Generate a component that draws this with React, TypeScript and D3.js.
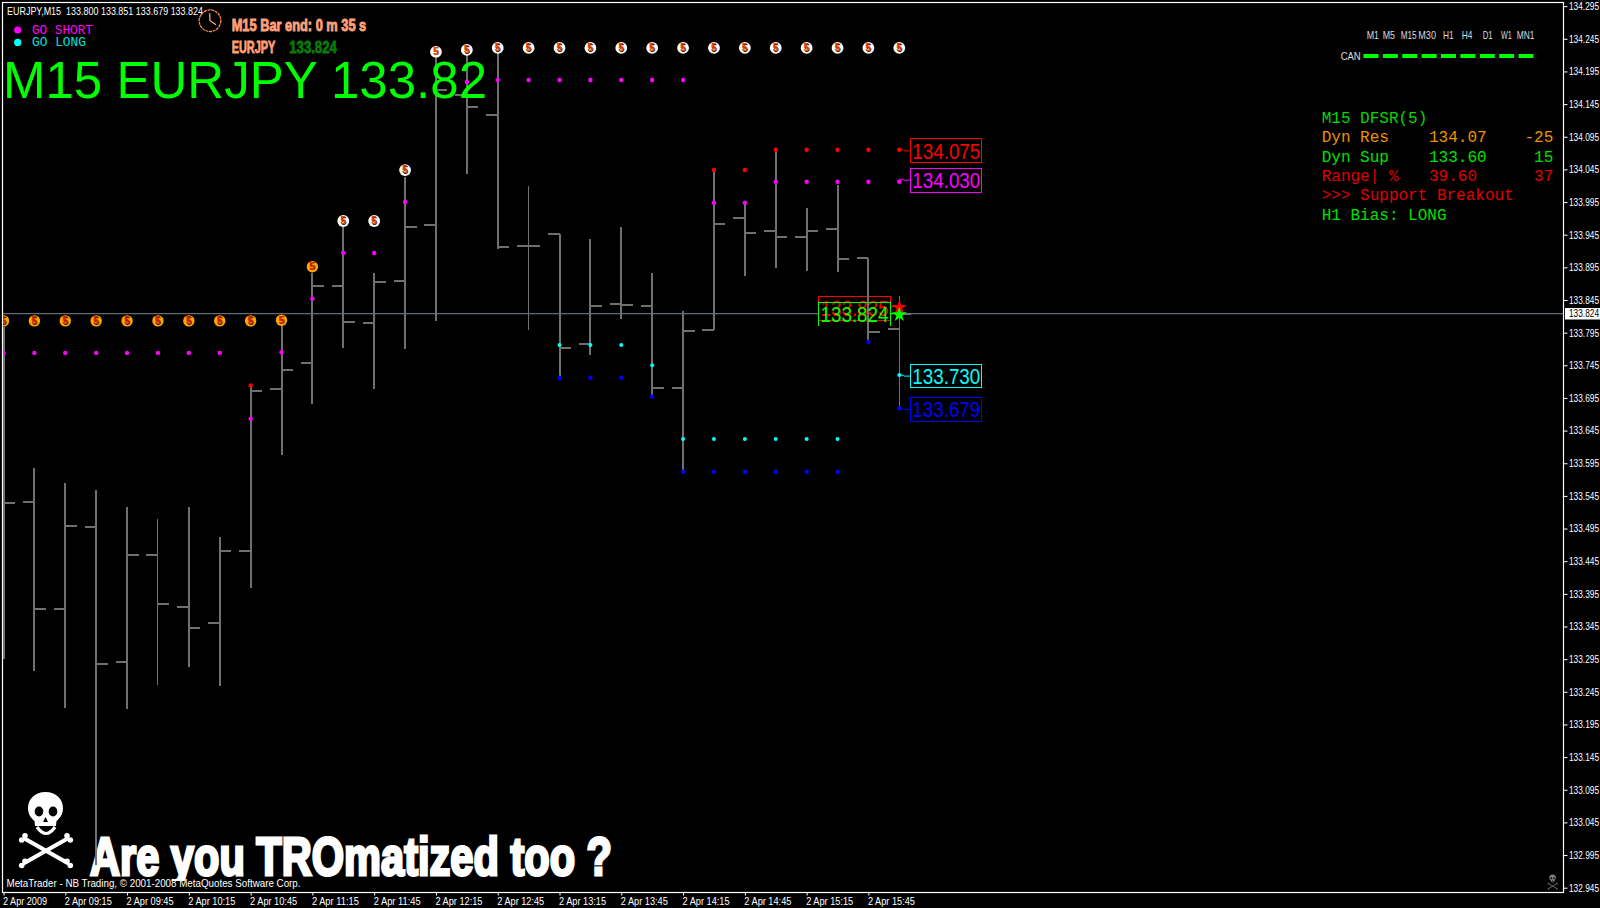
import React, { useEffect, useRef } from 'react';
import * as d3 from 'd3';

// bars, left to right
const opens = [133.540, 133.536, 133.372, 133.498, 133.291, 133.455, 133.375, 133.351, 133.460, 133.708, 133.749, 133.867, 133.810, 133.874, 133.960, 134.159, 134.128, 133.928, 133.946, 133.778, 133.839, 133.836, 133.711, 133.799, 133.970, 133.950, 133.942, 133.954, 133.910, 133.800];
const highs = [133.804, 133.588, 133.565, 133.554, 133.528, 133.510, 133.528, 133.482, 133.712, 133.807, 133.886, 133.957, 133.886, 134.034, 134.216, 134.220, 134.223, 134.020, 133.946, 133.938, 133.957, 133.886, 133.828, 134.044, 133.994, 134.075, 133.986, 134.021, 133.910, 133.851];
const lows = [133.295, 133.277, 133.220, 132.980, 133.219, 133.256, 133.283, 133.254, 133.404, 133.608, 133.685, 133.772, 133.709, 133.770, 133.813, 134.038, 133.923, 133.799, 133.726, 133.761, 133.816, 133.697, 133.582, 133.799, 133.882, 133.894, 133.890, 133.888, 133.781, 133.679];
const closes = [133.534, 133.372, 133.499, 133.288, 133.455, 133.380, 133.342, 133.460, 133.706, 133.738, 133.867, 133.811, 133.873, 133.957, 134.167, 134.140, 133.926, 133.928, 133.772, 133.836, 133.838, 133.711, 133.798, 133.961, 133.947, 133.942, 133.951, 133.908, 133.796, 133.824];
const thinBars = [5, 17, 29];

// "5" balloons above the bars
const balloonLevels = [133.813, 133.813, 133.813, 133.813, 133.813, 133.813, 133.813, 133.813, 133.813, 133.814, 133.896, 133.966, 133.966, 134.044, 134.225, 134.228, 134.231, 134.231, 134.231, 134.231, 134.231, 134.231, 134.231, 134.231, 134.231, 134.231, 134.231, 134.231, 134.231, 134.231];
const orangeBalloons = 11;

type Dot = [number, number];
const magentaDots: Dot[] = [[0, 133.764], [1, 133.764], [2, 133.764], [3, 133.764], [4, 133.764], [5, 133.764], [6, 133.764], [7, 133.764], [8, 133.663], [9, 133.765], [10, 133.847], [11, 133.917], [12, 133.917], [13, 133.995], [15, 134.179], [16, 134.182], [17, 134.182], [18, 134.182], [19, 134.182], [20, 134.182], [21, 134.182], [22, 134.182], [23, 133.994], [24, 133.994], [25, 134.026], [26, 134.026], [27, 134.026], [28, 134.026], [29, 134.026]];
const redDots: Dot[] = [[8, 133.714], [23, 134.044], [24, 134.044], [25, 134.075], [26, 134.075], [27, 134.075], [28, 134.075], [29, 134.075]];
const cyanDots: Dot[] = [[18, 133.776], [19, 133.776], [20, 133.776], [21, 133.745], [22, 133.632], [23, 133.632], [24, 133.632], [25, 133.632], [26, 133.632], [27, 133.632], [28, 133.833], [29, 133.730]];
const blueDots: Dot[] = [[18, 133.726], [19, 133.726], [20, 133.726], [21, 133.697], [22, 133.582], [23, 133.582], [24, 133.582], [25, 133.582], [26, 133.582], [27, 133.582], [28, 133.781], [29, 133.679]];

const levelValues = [134.075, 134.03, 133.73, 133.679];
const levelColors = ['#ff0000', '#ff00ff', '#00ffff', '#0000ff'];

const priceTicks = d3.range(28).map(i => 134.295 - i * 0.05);
const timeTickBars = [0, 2, 4, 6, 8, 10, 12, 14, 16, 18, 20, 22, 24, 26, 28];
const timeLabels = ['2 Apr 2009', '2 Apr 09:15', '2 Apr 09:45', '2 Apr 10:15', '2 Apr 10:45', '2 Apr 11:15', '2 Apr 11:45', '2 Apr 12:15', '2 Apr 12:45', '2 Apr 13:15', '2 Apr 13:45', '2 Apr 14:15', '2 Apr 14:45', '2 Apr 15:15', '2 Apr 15:45'];

const frameNames = ['M1', 'M5', 'M15', 'M30', 'H1', 'H4', 'D1', 'W1', 'MN1'];
const frameLabelX = [1366.7, 1382.7, 1400.7, 1418.3, 1443, 1461.7, 1482.7, 1501, 1516.7];
const frameLabelW = [12.3, 12.3, 16, 17.7, 10.7, 10.7, 10, 10.7, 17.7];

const dfsrRows = [
  { label: 'M15 DFSR(5)', value: '', pips: '', color: '#00d800' },
  { label: 'Dyn Res', value: '134.07', pips: '-25', color: '#ee9000' },
  { label: 'Dyn Sup', value: '133.60', pips: '15', color: '#00e000' },
  { label: 'Range| %', value: '39.60', pips: '37', color: '#e00000' },
  { label: '>>> Support Breakout', value: '', pips: '', color: '#e00000' },
  { label: 'H1 Bias: LONG', value: '', pips: '', color: '#00e000' },
];

const narrowBold = '"Liberation Sans Narrow", "Liberation Sans", Arial, sans-serif';
const uiFont = '"Liberation Sans", Arial, sans-serif';
const monoFont = '"Liberation Mono", "Courier New", monospace';

const App: React.FC = () => {
  const svgRef = useRef<SVGSVGElement>(null);

  useEffect(() => {
    if (!svgRef.current) return;
    const svg = d3.select(svgRef.current);
    svg.selectAll('*').remove();

    const x = d3.scaleLinear().domain([0, 29]).range([3.5, 899.3]);
    const y = d3.scaleLinear().domain([132.945, 133.845]).range([887.7, 300]);

    const defs = svg.append('defs');
    defs.append('clipPath').attr('id', 'plot').append('rect').attr('x', 3).attr('y', 3).attr('width', 1560).attr('height', 889);
    defs.append('clipPath').attr('id', 'slogan').append('rect').attr('x', 3).attr('y', 800).attr('width', 800).attr('height', 81);

    const label = (g: any, px: number, py: number, str: string, color: string, size: number, family: string, len?: number) => {
      const t = g.append('text').attr('x', px).attr('y', py).attr('fill', color)
        .attr('font-size', size).attr('font-family', family).attr('xml:space', 'preserve').text(str);
      if (len) t.attr('textLength', len).attr('lengthAdjust', 'spacingAndGlyphs');
      return t;
    };
    const impact = (g: any, px: number, py: number, str: string, color: string, size: number, len: number, sw: number) =>
      label(g, px, py, str, color, size, narrowBold, len).attr('font-weight', 'bold').attr('stroke', color).attr('stroke-width', sw);

    // price axis
    const yAxis = d3.axisRight(y).tickValues(priceTicks).tickFormat(d3.format('.3f') as any).tickSize(4).tickPadding(1.5);
    const gy = svg.append('g').attr('transform', 'translate(1563.5,0)').call(yAxis as any);
    gy.select('.domain').remove();
    gy.selectAll('line').attr('stroke', '#fff');
    gy.selectAll('text').attr('fill', '#fff').attr('font-size', 10.5).attr('font-family', uiFont)
      .attr('textLength', 30).attr('lengthAdjust', 'spacingAndGlyphs');

    // time axis
    const xAxis = d3.axisBottom(x).tickValues(timeTickBars).tickFormat((_, i) => timeLabels[i]).tickSize(3).tickPadding(2);
    const gx = svg.append('g').attr('transform', 'translate(0,892.5)').call(xAxis as any);
    gx.select('.domain').remove();
    gx.selectAll('line').attr('stroke', '#fff');
    gx.selectAll('text').attr('fill', '#fff').attr('font-size', 10.5).attr('font-family', uiFont).attr('dx', -1)
      .attr('text-anchor', 'start').attr('textLength', (_, i) => (i === 0 ? 44 : 47)).attr('lengthAdjust', 'spacingAndGlyphs');

    // frame
    svg.append('rect').attr('x', 2.5).attr('y', 2.5).attr('width', 1561).attr('height', 890)
      .attr('fill', 'none').attr('stroke', '#fff').attr('stroke-width', 1.2);

    // current price tag
    svg.append('rect').attr('x', 1565).attr('y', 308).attr('width', 35).attr('height', 11.5).attr('fill', '#fff');
    label(svg, 1569, y(133.824) + 3.6, '133.824', '#000', 10.5, uiFont, 30);

    const plot = svg.append('g').attr('clip-path', 'url(#plot)');

    // slogan sits under the bars
    const sloganG = plot.append('g').attr('clip-path', 'url(#slogan)');
    impact(sloganG, 90, 875, 'Are you TROmatized too ?', '#fff', 54, 522, 3);

    const skull = plot.append('g').attr('class', 'skull');
    const drawSkull = (g: any) => {
      g.append('path').attr('fill', '#fff')
        .attr('d', 'M45.5,792 C56,792 63,799 63,808 C63,815 59,819 56.5,821 L56,826 L35,826 L34.5,821 C32,819 28,815 28,808 C28,799 35,792 45.5,792 Z');
      g.append('ellipse').attr('cx', 39).attr('cy', 811.5).attr('rx', 4.3).attr('ry', 5).attr('fill', '#000');
      g.append('ellipse').attr('cx', 53).attr('cy', 811.5).attr('rx', 4.3).attr('ry', 5).attr('fill', '#000');
      g.append('path').attr('d', 'M45.5,817 L48,822 L43,822 Z').attr('fill', '#000');
      g.append('path').attr('d', 'M37,827 Q46,840 55,827').attr('fill', 'none').attr('stroke', '#fff').attr('stroke-width', 3.2);
      [[23.5, 838, 68.5, 863.5], [68.5, 838, 23.5, 863.5]].forEach(([a, b, c, d]) => {
        g.append('line').attr('x1', a).attr('y1', b).attr('x2', c).attr('y2', d).attr('stroke', '#fff').attr('stroke-width', 4.2);
        [[a, b], [c, d]].forEach(([cx, cy]) => {
          const dir = cx < 46 ? 1 : -1;
          g.append('circle').attr('cx', cx + dir * 1.5).attr('cy', cy - 2.2).attr('r', 2.8).attr('fill', '#fff');
          g.append('circle').attr('cx', cx - dir * 1.8).attr('cy', cy + 2).attr('r', 2.8).attr('fill', '#fff');
        });
      });
    };
    drawSkull(skull);
    const tiny = plot.append('g').attr('opacity', 0.5).attr('transform', 'translate(1544.5,866) scale(0.19,0.2) translate(-3,-750)');
    drawSkull(tiny);

    label(plot, 6.5, 886.5, 'MetaTrader - NB Trading, © 2001-2008 MetaQuotes Software Corp.', '#fff', 11, uiFont, 294);

    // price line
    plot.append('line').attr('x1', 3).attr('x2', 1563).attr('y1', y(133.824)).attr('y2', y(133.824)).attr('stroke', '#778899').attr('stroke-width', 1);

    // OHLC bars
    const barColor = '#707070';
    const bars = plot.append('g').attr('shape-rendering', 'crispEdges').selectAll('g').data(d3.range(opens.length)).enter().append('g')
      .attr('stroke', barColor).attr('stroke-width', d => (thinBars.includes(d) ? 1 : 2));
    bars.append('line').attr('x1', d => x(d)).attr('x2', d => x(d)).attr('y1', d => y(highs[d])).attr('y2', d => y(lows[d]));
    bars.append('line').attr('x1', d => x(d) - 11.5).attr('x2', d => x(d)).attr('y1', d => y(opens[d])).attr('y2', d => y(opens[d])).attr('stroke-width', 2);
    bars.append('line').attr('x1', d => x(d)).attr('x2', d => x(d) + 11.5).attr('y1', d => y(closes[d])).attr('y2', d => y(closes[d])).attr('stroke-width', 2);

    // level dots
    const dots = (data: Dot[], color: string, r: number) => {
      plot.append('g').selectAll('circle').data(data).enter().append('circle')
        .attr('cx', d => x(d[0])).attr('cy', d => y(d[1])).attr('r', r).attr('fill', color);
    };
    dots(redDots, '#ff0000', 2.2);
    dots(blueDots, '#0000ff', 2.2);
    dots(cyanDots, '#00ffff', 2);
    dots(magentaDots, '#ff00ff', 2.2);

    // balloons
    const balloons = plot.append('g').selectAll('g').data(balloonLevels).enter().append('g')
      .attr('transform', (d, i) => `translate(${x(i)},${y(d)})`);
    balloons.append('circle').attr('r', (_, i) => (i < orangeBalloons ? 5.7 : 5.9)).attr('fill', (_, i) => (i < orangeBalloons ? '#ffa500' : '#fff'));
    balloons.append('text').attr('text-anchor', 'middle').attr('y', 3.6).attr('x', 0.4)
      .attr('font-size', 10).attr('font-weight', 'bold').attr('font-family', uiFont).attr('fill', '#3a2a00').text('5');
    balloons.append('text').attr('text-anchor', 'middle').attr('y', 3.4).attr('x', -0.3)
      .attr('font-size', 10).attr('font-weight', 'bold').attr('font-family', uiFont).attr('fill', (_, i) => (i < orangeBalloons ? '#e02000' : '#f04000')).text('5');

    // level tags right of the last bar
    levelValues.forEach((v, i) => {
      const cy = y(v) + 1;
      plot.append('path').attr('d', `M${x(29)},${y(v)} L903,${y(v)} L904,${cy} L910,${cy}`)
        .attr('fill', 'none').attr('stroke', levelColors[i]).attr('stroke-width', 1);
      plot.append('rect').attr('x', 910).attr('y', cy - 11.9).attr('width', 71.7).attr('height', 23.8)
        .attr('fill', '#000').attr('stroke', levelColors[i]).attr('stroke-width', 1).attr('shape-rendering', 'crispEdges');
      label(plot, 912.3, cy + 8, d3.format('.3f')(v), levelColors[i], 22, uiFont, 68);
    });

    // the two tags on the last price, green over red
    const star = d3.symbol().type(d3.symbolStar);
    const hiY = y(133.835);
    plot.append('line').attr('x1', 890).attr('x2', 899).attr('y1', hiY).attr('y2', hiY).attr('stroke', '#ff0000');
    plot.append('rect').attr('x', 818).attr('y', 296.7).attr('width', 72.7).attr('height', 23.3).attr('fill', '#000').attr('stroke', '#ff0000').attr('stroke-width', 1).attr('shape-rendering', 'crispEdges');
    label(plot, 820.5, 316, '133.835', '#ff0000', 22, uiFont, 68);
    plot.append('path').attr('d', star.size(70)()).attr('transform', `translate(${x(29)},${hiY + 1})`).attr('fill', '#ff0000');
    // bar 28 still shows through the tags
    plot.append('line').attr('x1', x(28)).attr('x2', x(28)).attr('y1', 296).attr('y2', 326).attr('stroke', barColor).attr('stroke-width', 2).attr('shape-rendering', 'crispEdges');
    plot.append('path').attr('d', 'M818,325.7 L818,302 L890.7,302 L890.7,325.7').attr('fill', 'none').attr('stroke', '#00ff00').attr('stroke-width', 1).attr('shape-rendering', 'crispEdges');
    label(plot, 820.5, 321.5, '133.824', '#00ff00', 22, uiFont, 68);
    plot.append('line').attr('x1', 890).attr('x2', 899).attr('y1', y(133.824)).attr('y2', y(133.824)).attr('stroke', '#00ff00');
    plot.append('path').attr('d', star.size(70)()).attr('transform', `translate(${x(29)},${y(133.824) + 1})`).attr('fill', '#00ff00');

    // header texts
    label(plot, 7, 14.5, 'EURJPY,M15  133.800 133.851 133.679 133.824', '#fff', 11, uiFont, 196);
    plot.append('circle').attr('cx', 17.7).attr('cy', 30).attr('r', 3.6).attr('fill', '#ff00ff');
    plot.append('circle').attr('cx', 17.7).attr('cy', 42.4).attr('r', 3.6).attr('fill', '#00ffff');
    label(plot, 32, 34, 'GO SHORT', '#ff00ff', 12.6, monoFont, 61);
    label(plot, 32, 46.3, 'GO LONG', '#00e0e0', 12.6, monoFont, 54);

    const clock = plot.append('g').attr('transform', 'translate(210,20.7)');
    clock.append('circle').attr('r', 10.8).attr('fill', 'none').attr('stroke', '#ff8c50').attr('stroke-width', 1.3).attr('stroke-dasharray', '3 0.7');
    clock.append('path').attr('d', 'M-0.3,-7.5 L0,0 L6,4').attr('fill', 'none').attr('stroke', '#ffb090').attr('stroke-width', 1.2);

    impact(plot, 231.7, 30.5, 'M15 Bar end: 0 m 35 s', '#ffa07a', 17, 134.5, 0.9);
    impact(plot, 231.7, 53.3, 'EURJPY', '#ffa07a', 16, 43.5, 0.8);
    impact(plot, 289.3, 53.3, '133.824', '#0a7a0a', 16, 47.5, 0.8);

    label(plot, 3, 98.3, 'M15 EURJPY 133.82', '#00ff00', 51, uiFont, 484);

    // timeframe strip
    frameNames.forEach((n, i) => label(plot, frameLabelX[i], 38.7, n, '#dddddd', 10.5, uiFont, frameLabelW[i]));
    label(plot, 1340.7, 59.5, 'CAN', '#dddddd', 10.5, uiFont, 20);
    const strip = d3.scalePoint<string>().domain(frameNames).range([1363.5, 1518.5]);
    plot.append('g').selectAll('rect').data(frameNames).enter().append('rect')
      .attr('x', d => strip(d) as number).attr('y', 54).attr('width', 15).attr('height', 4).attr('fill', '#00ff00');

    // DFSR panel
    const rowY = d3.scalePoint<number>().domain(d3.range(dfsrRows.length)).range([123, 219.5]);
    dfsrRows.forEach((r, i) => {
      const py = rowY(i) as number;
      label(plot, 1321.7, py, r.label, r.color, 16, monoFont);
      if (r.value) label(plot, 1429, py, r.value, r.color, 16, monoFont);
      if (r.pips) label(plot, 1553.3, py, r.pips, r.color, 16, monoFont).attr('text-anchor', 'end');
    });
  }, []);

  return (
    <div style={{ position: 'fixed', left: 0, top: 0, width: 1600, height: 908, background: '#000', overflow: 'hidden' }}>
      <svg ref={svgRef} width={1600} height={908} style={{ display: 'block' }}></svg>
    </div>
  );
};

export default App;
